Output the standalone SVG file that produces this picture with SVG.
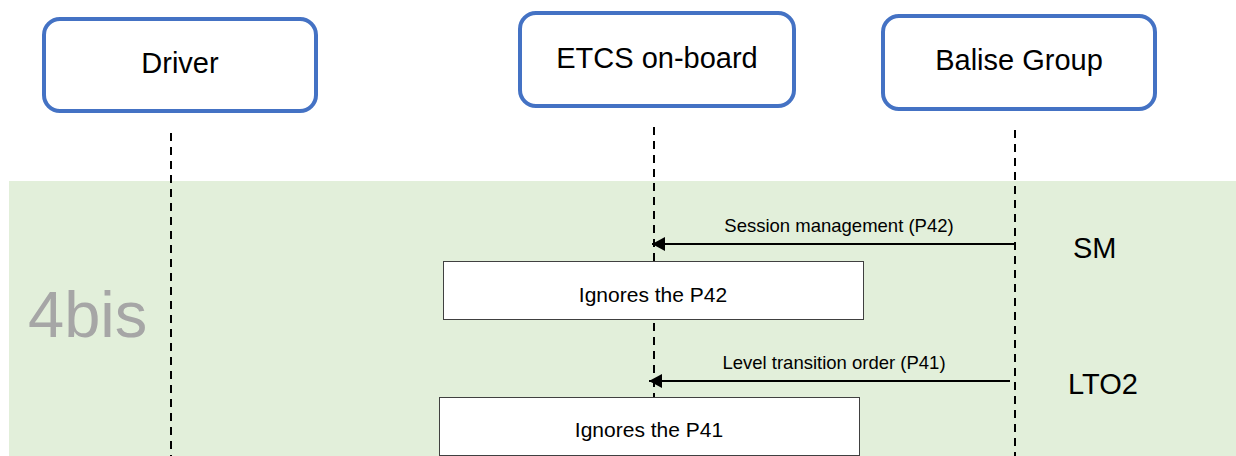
<svg xmlns="http://www.w3.org/2000/svg" width="1236" height="456" viewBox="0 0 1236 456">
<style>
.actor{fill:#fff;stroke:#4472C4;stroke-width:4}
.atext{font-family:"Liberation Sans",Arial,sans-serif;font-size:29px;fill:#000;text-anchor:middle}
.life{stroke:#000;stroke-width:2;stroke-dasharray:8 6;fill:none}
.msg{stroke:#000;stroke-width:2;fill:none}
.mlabel{font-family:"Liberation Sans",Arial,sans-serif;font-size:18.5px;fill:#000;text-anchor:middle}
.act{fill:#fff;stroke:#404040;stroke-width:1}
.btext{font-family:"Liberation Sans",Arial,sans-serif;font-size:21px;fill:#000;text-anchor:middle}
.side{font-family:"Liberation Sans",Arial,sans-serif;font-size:29px;fill:#000}
</style>
<defs>
<marker id="ah" markerWidth="14" markerHeight="14" refX="13" refY="7" orient="auto" markerUnits="userSpaceOnUse">
<path d="M0,0 L13,7 L0,14 Z" fill="#000"/>
</marker>
</defs>
<rect width="1236" height="456" fill="#fff"/>
<rect id="band" x="9" y="181" width="1227" height="275" fill="#E2EFDA"/>
<text x="28" y="337" font-family="'Liberation Sans',Arial,sans-serif" font-size="65" fill="#A6A6A6">4bis</text>
<g id="lifelines">
<line class="life" x1="171" y1="133" x2="171" y2="456"/>
<line class="life" x1="654" y1="127" x2="654" y2="456"/>
<line class="life" x1="1015" y1="130" x2="1015" y2="456"/>
</g>
<g id="driver">
<rect class="actor" x="44" y="19" width="272" height="92" rx="16"/>
<text class="atext" x="180" y="73">Driver</text>
</g>
<g id="etcs">
<rect class="actor" x="520" y="13" width="274" height="93" rx="16"/>
<text class="atext" x="657" y="68">ETCS on-board</text>
</g>
<g id="balise">
<rect class="actor" x="883" y="16" width="272" height="93" rx="16"/>
<text class="atext" x="1019" y="70">Balise Group</text>
</g>
<g id="connectors">
<line class="msg" x1="1015" y1="244" x2="652" y2="244" marker-end="url(#ah)"/>
<text class="mlabel" x="839" y="232">Session management (P42)</text>
<line class="msg" x1="1010" y1="381" x2="649" y2="381" marker-end="url(#ah)"/>
<text class="mlabel" x="834" y="369">Level transition order (P41)</text>
</g>
<g id="ignore42">
<rect class="act" x="443.5" y="261.5" width="420" height="58"/>
<text class="btext" x="653" y="302">Ignores the P42</text>
</g>
<g id="ignore41">
<rect class="act" x="439.5" y="397.5" width="420" height="58"/>
<text class="btext" x="649" y="437">Ignores the P41</text>
</g>
<text id="sm" class="side" x="1073" y="258">SM</text>
<text id="lto2" class="side" x="1068" y="394">LTO2</text>
</svg>
